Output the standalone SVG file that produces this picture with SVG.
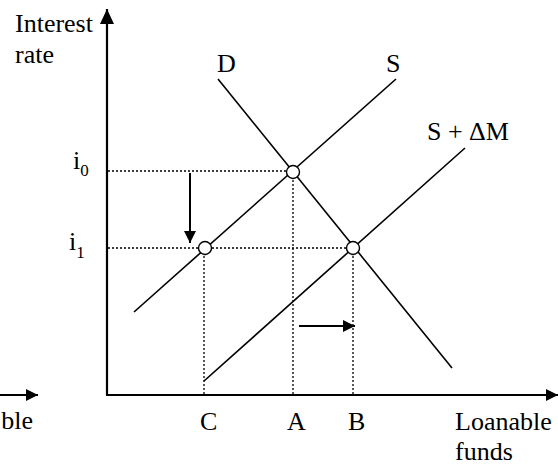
<svg xmlns="http://www.w3.org/2000/svg" width="558" height="466" viewBox="0 0 558 466">
<style>
.t{font-family:'Liberation Serif','Times New Roman','DejaVu Serif',serif;font-size:26px;fill:#000}
.sub{font-size:17px}
.axis{stroke:#000;stroke-width:2.2;fill:none}
.curve{stroke:#000;stroke-width:1.6;fill:none}
.dot{stroke:#000;stroke-width:1.3;stroke-dasharray:2,2;fill:none}
.shift{stroke:#000;stroke-width:2;fill:none}
.pt{fill:#fff;stroke:#000;stroke-width:1.4}
</style>
<defs>
<marker id="ah" viewBox="0 0 12 12" refX="12" refY="6" markerWidth="12" markerHeight="12" markerUnits="userSpaceOnUse" orient="auto">
<path d="M0,0 L12,6 L0,12 Z" fill="#000"/>
</marker>
<marker id="ahBig" viewBox="0 0 15 14" refX="15" refY="7" markerWidth="15" markerHeight="14" markerUnits="userSpaceOnUse" orient="auto">
<path d="M0,0 L15,7 L0,14 Z" fill="#000"/>
</marker>
</defs>
<g id="axes">
<line class="axis" x1="107" y1="395" x2="107" y2="9" marker-end="url(#ahBig)"/>
<line class="axis" x1="106" y1="395" x2="558" y2="395" marker-end="url(#ah)"/>
<line class="axis" x1="0" y1="395" x2="38" y2="395" marker-end="url(#ah)"/>
</g>
<g id="connectors">
<line class="dot" x1="108" y1="171" x2="293" y2="171"/>
<line class="dot" x1="108" y1="248" x2="353" y2="248"/>
<line class="dot" x1="204" y1="248" x2="204" y2="394"/>
<line class="dot" x1="293" y1="172" x2="293" y2="394"/>
<line class="dot" x1="353" y1="248" x2="353" y2="394"/>
<line class="shift" x1="190" y1="173" x2="190" y2="243" marker-end="url(#ah)"/>
<line class="shift" x1="299" y1="326" x2="355" y2="326" marker-end="url(#ah)"/>
</g>
<g id="curve-D"><line class="curve" x1="218" y1="79" x2="452" y2="368"/></g>
<g id="curve-S"><line class="curve" x1="396" y1="79" x2="134" y2="312"/></g>
<g id="curve-SdM"><line class="curve" x1="465" y1="148" x2="204" y2="381"/></g>
<g id="point-i0"><circle class="pt" cx="293" cy="172" r="6.5"/></g>
<g id="point-C"><circle class="pt" cx="205" cy="248" r="6.5"/></g>
<g id="point-B"><circle class="pt" cx="353" cy="248" r="6.5"/></g>
<g id="labels" class="t" font-family="'Liberation Serif','Times New Roman',serif" font-size="26">
<text x="15" y="32">Interest</text>
<text x="15" y="63">rate</text>
<text x="73" y="169">i<tspan class="sub" font-size="17" dy="7">0</tspan></text>
<text x="69" y="250">i<tspan class="sub" font-size="17" dy="8">1</tspan></text>
<text x="217" y="72">D</text>
<text x="386" y="72">S</text>
<text x="427" y="140">S + ΔM</text>
<text x="200" y="430">C</text>
<text x="287" y="430">A</text>
<text x="348" y="430">B</text>
<text x="455" y="430">Loanable</text>
<text x="455" y="460">funds</text>
<text x="33" y="429" text-anchor="end">ble</text>
</g>
</svg>
